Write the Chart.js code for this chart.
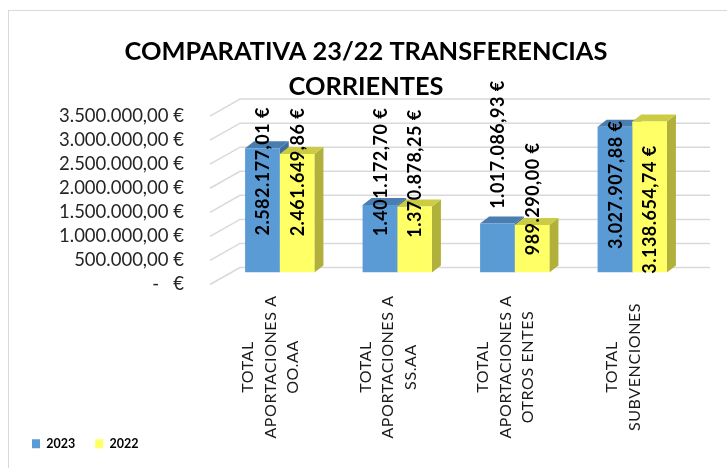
<!DOCTYPE html>
<html>
<head>
<meta charset="utf-8">
<script src="https://cdn.jsdelivr.net/npm/chart.js@4/dist/chart.umd.min.js"></script>
<style>
  body { margin: 0; background: #fff; }
  #wrap { position: relative; width: 727px; height: 468px; }
  #frame { position: absolute; left: 8px; top: 10px; right: -2px; bottom: -2px;
           border-left: 1.5px solid #d9d9d9; border-top: 1.5px solid #d9d9d9; }
  canvas { position: absolute; left: 0; top: 0; }
</style>
</head>
<body>
<div id="wrap">
  <div id="frame"></div>
  <canvas id="transChart" width="727" height="468"></canvas>
</div>
<script>
    // datos
    var categories = [
        ['TOTAL', 'APORTACIONES A', 'OO.AA'],
        ['TOTAL', 'APORTACIONES A', 'SS.AA'],
        ['TOTAL', 'APORTACIONES A', 'OTROS ENTES'],
        ['TOTAL', 'SUBVENCIONES']
    ];
    var values2023 = [2582177.01, 1401172.70, 1017086.93, 3027907.88];
    var values2022 = [2461649.86, 1370878.25, 989290.00, 3138654.74];
    var tickValues = [0, 500000, 1000000, 1500000, 2000000, 2500000, 3000000, 3500000];

    // offsets of the vertical value labels from the bar top (px), as placed in the original
    var labelShift = [[23, -33, -79, 58], [18, -33, -26, 88]];

    function euro(v) {
        if (v === 0) return '-   €';
        var parts = v.toFixed(2).split('.');
        var ent = parts[0].replace(/\B(?=(\d{3})+(?!\d))/g, '.');
        return ent + ',' + parts[1] + ' €';
    }

    var DX = 9, DY = 7;

    var bars3d = {
        id: 'bars3d',
        beforeDatasetsDraw: function (chart) {
            var ctx = chart.ctx, area = chart.chartArea;
            var y = chart.scales.y;
            ctx.save();
            ctx.strokeStyle = '#d9d9d9';
            ctx.lineWidth = 1.5;
            tickValues.forEach(function (t) {
                var py = y.getPixelForValue(t);
                ctx.beginPath();
                ctx.moveTo(area.left - 11, py + 12);
                ctx.lineTo(area.left + 19, py - 5);
                ctx.lineTo(area.right + 19, py - 5);
                ctx.stroke();
            });
            var tops = ['#4a7db0', '#cccc44'];
            var sides = ['#3f6d9c', '#b0b03a'];
            for (var i = 0; i < categories.length; i++) {
                for (var d = 0; d < 2; d++) {
                    var b = chart.getDatasetMeta(d).data[i];
                    var l = b.x - b.width / 2, r = b.x + b.width / 2;
                    ctx.fillStyle = sides[d];
                    ctx.beginPath();
                    ctx.moveTo(r, b.y);
                    ctx.lineTo(r + DX, b.y - DY);
                    ctx.lineTo(r + DX, b.base - DY);
                    ctx.lineTo(r, b.base);
                    ctx.closePath();
                    ctx.fill();
                    ctx.fillStyle = tops[d];
                    ctx.beginPath();
                    ctx.moveTo(l, b.y);
                    ctx.lineTo(l + DX, b.y - DY);
                    ctx.lineTo(r + DX, b.y - DY);
                    ctx.lineTo(r, b.y);
                    ctx.closePath();
                    ctx.fill();
                }
            }
            ctx.restore();
        },
        afterDatasetsDraw: function (chart) {
            var ctx = chart.ctx, area = chart.chartArea;
            ctx.save();
            ctx.beginPath();
            ctx.rect(0, 0, chart.width, area.bottom + 2);
            ctx.clip();
            ctx.fillStyle = '#000';
            ctx.font = 'bold 18px Lato';
            ctx.letterSpacing = '0.5px';
            ctx.textAlign = 'center';
            ctx.textBaseline = 'middle';
            chart.data.datasets.forEach(function (ds, d) {
                chart.getDatasetMeta(d).data.forEach(function (b, i) {
                    ctx.save();
                    ctx.translate(b.x, b.y + labelShift[d][i]);
                    ctx.rotate(-Math.PI / 2);
                    ctx.fillText(euro(ds.data[i]), 0, 1);
                    ctx.restore();
                });
            });
            ctx.restore();

            // category labels, rotated and centred line by line
            var x = chart.scales.x;
            ctx.save();
            ctx.fillStyle = '#1a1a1a';
            ctx.font = '16px Lato';
            ctx.letterSpacing = '0.6px';
            ctx.textAlign = 'center';
            ctx.textBaseline = 'middle';
            categories.forEach(function (lines, i) {
                var cx = x.getPixelForTick(i) - 9;
                lines.forEach(function (txt, k) {
                    ctx.save();
                    ctx.translate(cx + (k - (lines.length - 1) / 2) * 22.5, 367);
                    ctx.rotate(-Math.PI / 2);
                    ctx.fillText(txt, 0, 0);
                    ctx.restore();
                });
            });
            ctx.restore();
        }
    };

    var ctx = document.getElementById('transChart').getContext('2d');
    var transChart = new Chart(ctx, {
        type: 'bar',
        data: {
            labels: categories,
            datasets: [{
                label: '2023',
                data: values2023,
                backgroundColor: '#5b9bd5'
            }, {
                label: '2022',
                data: values2022,
                backgroundColor: '#ffff66'
            }]
        },
        options: {
            responsive: false,
            animation: false,
            layout: { padding: { left: 12, right: 7, top: 0, bottom: 8 } },
            categoryPercentage: 0.59,
            barPercentage: 1,
            plugins: {
                title: {
                    display: true,
                    text: ['COMPARATIVA 23/22 TRANSFERENCIAS', 'CORRIENTES'],
                    color: '#000',
                    font: { family: 'Lato', size: 25.4, weight: 'bold', lineHeight: 1.38 },
                    padding: { top: 34, bottom: 0 }
                },
                legend: {
                    position: 'bottom',
                    align: 'start',
                    labels: {
                        boxWidth: 8,
                        boxHeight: 9,
                        padding: 20,
                        color: '#000',
                        font: { family: 'Lato', size: 12.5, weight: 'bold' }
                    }
                },
                tooltip: { enabled: false }
            },
            scales: {
                x: {
                    grid: { display: false },
                    border: { display: false },
                    ticks: { display: false },
                    afterFit: function (scale) { scale.height = 145; }
                },
                y: {
                    min: 0,
                    max: 3500000,
                    afterBuildTicks: function (scale) {
                        scale.ticks = tickValues.map(function (v) { return { value: v }; });
                    },
                    afterFit: function (scale) { scale.width = 209; },
                    grid: { display: false },
                    border: { display: false },
                    ticks: {
                        autoSkip: false,
                        padding: 29,
                        labelOffset: 12,
                        color: '#262626',
                        font: { family: 'Lato', size: 18.5 },
                        callback: function (v) { return euro(v); }
                    }
                },
                yRight: {
                    position: 'right',
                    display: true,
                    grid: { display: false },
                    border: { display: false },
                    ticks: { display: false },
                    afterFit: function (scale) { scale.width = 29; }
                }
            }
        },
        plugins: [bars3d]
    });
</script>
</body>
</html>
